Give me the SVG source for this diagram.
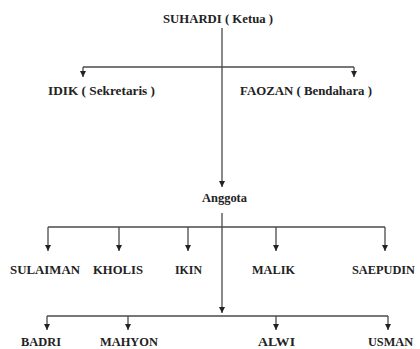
<svg xmlns="http://www.w3.org/2000/svg" width="420" height="349" viewBox="0 0 420 349">
<style>
text{font-family:"Liberation Serif","Times New Roman",serif;font-weight:bold;font-size:13.5px;fill:#222}
.ln{stroke:#4a4a4a;stroke-width:1.3;fill:none}
</style>
<defs>
<marker id="ah" viewBox="0 0 6 6" refX="6" refY="3" markerWidth="6" markerHeight="6" markerUnits="userSpaceOnUse" orient="auto">
<path d="M0,0 L6,3 L0,6 Z" fill="#222"/>
</marker>
</defs>
<rect width="420" height="349" fill="#fff"/>
<g id="connectors">
<path class="ln" d="M222,28 V187" marker-end="url(#ah)"/>
<path class="ln" d="M83,67 H354"/>
<path class="ln" d="M83,67 V77" marker-end="url(#ah)"/>
<path class="ln" d="M354,67 V77" marker-end="url(#ah)"/>
<path class="ln" d="M222,213 V313" marker-end="url(#ah)"/>
<path class="ln" d="M48,227 H385"/>
<path class="ln" d="M48,227 V251" marker-end="url(#ah)"/>
<path class="ln" d="M119,227 V251" marker-end="url(#ah)"/>
<path class="ln" d="M188,227 V251" marker-end="url(#ah)"/>
<path class="ln" d="M276,227 V251" marker-end="url(#ah)"/>
<path class="ln" d="M385,227 V251" marker-end="url(#ah)"/>
<path class="ln" d="M47,316 H388"/>
<path class="ln" d="M47,316 V330" marker-end="url(#ah)"/>
<path class="ln" d="M128,316 V330" marker-end="url(#ah)"/>
<path class="ln" d="M276,316 V330" marker-end="url(#ah)"/>
<path class="ln" d="M388,316 V330" marker-end="url(#ah)"/>
</g>
<g id="suhardi"><text x="163" y="23" textLength="110" lengthAdjust="spacingAndGlyphs">SUHARDI ( Ketua )</text></g>
<g id="idik"><text x="48" y="95" textLength="107" lengthAdjust="spacingAndGlyphs">IDIK ( Sekretaris  )</text></g>
<g id="faozan"><text x="240" y="95" textLength="132" lengthAdjust="spacingAndGlyphs">FAOZAN ( Bendahara )</text></g>
<g id="anggota"><text x="202" y="202" textLength="45" lengthAdjust="spacingAndGlyphs">Anggota</text></g>
<g id="sulaiman"><text x="10" y="274" textLength="70" lengthAdjust="spacingAndGlyphs">SULAIMAN</text></g>
<g id="kholis"><text x="93" y="274" textLength="50" lengthAdjust="spacingAndGlyphs">KHOLIS</text></g>
<g id="ikin"><text x="175" y="274" textLength="27" lengthAdjust="spacingAndGlyphs">IKIN</text></g>
<g id="malik"><text x="252" y="274" textLength="43" lengthAdjust="spacingAndGlyphs">MALIK</text></g>
<g id="saepudin"><text x="352" y="274" textLength="63" lengthAdjust="spacingAndGlyphs">SAEPUDIN</text></g>
<g id="badri"><text x="21" y="346" textLength="40" lengthAdjust="spacingAndGlyphs">BADRI</text></g>
<g id="mahyon"><text x="100" y="346" textLength="58" lengthAdjust="spacingAndGlyphs">MAHYON</text></g>
<g id="alwi"><text x="258" y="346" textLength="37" lengthAdjust="spacingAndGlyphs">ALWI</text></g>
<g id="usman"><text x="368" y="346" textLength="45" lengthAdjust="spacingAndGlyphs">USMAN</text></g>
</svg>
